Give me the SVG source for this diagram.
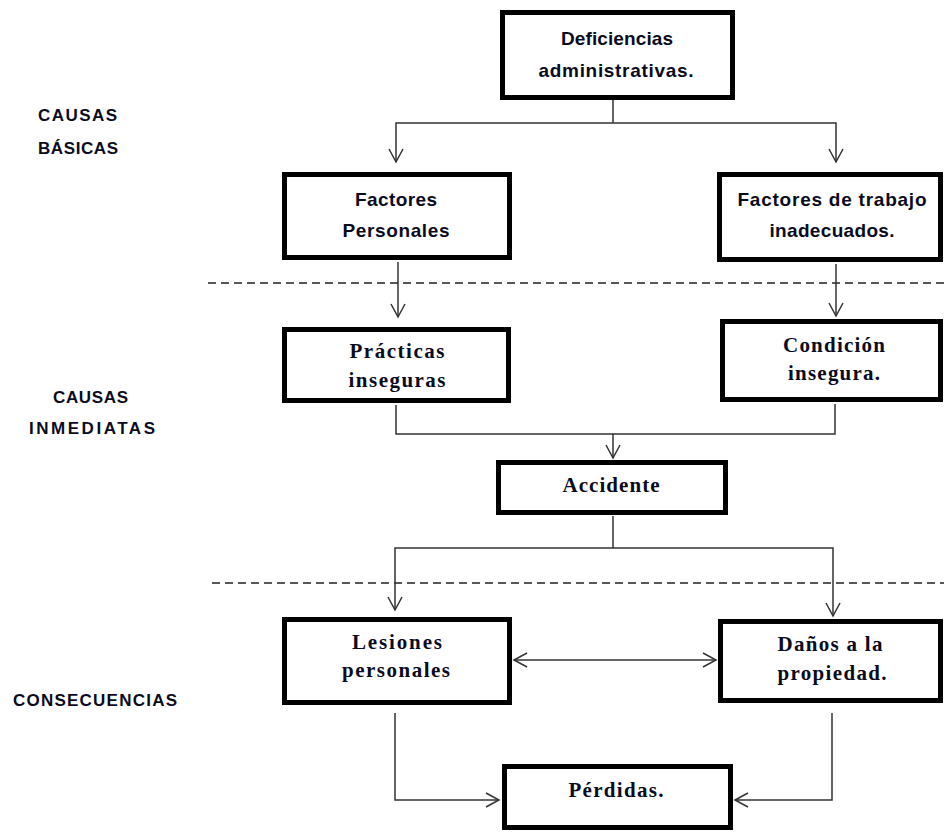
<svg xmlns="http://www.w3.org/2000/svg" width="944" height="832" viewBox="0 0 944 832">
<style>
.box{fill:#fff;stroke:#000;stroke-width:5}
.sans{font-family:"Liberation Sans",Arial,sans-serif;font-weight:bold;font-size:19px;fill:#0b0b1e;text-anchor:middle}
.lab{font-family:"Liberation Sans",Arial,sans-serif;font-weight:bold;font-size:17px;fill:#0b0b1e;text-anchor:start}
.serif{font-family:"Liberation Serif","Times New Roman",serif;font-weight:bold;font-size:21px;fill:#0b0b1e;text-anchor:middle}
.con{fill:none;stroke:#333;stroke-width:1.5}
.arr{marker-end:url(#ah)}
.arr2{marker-start:url(#ah);marker-end:url(#ah)}
.dash{fill:none;stroke:#222;stroke-width:1.5;stroke-dasharray:8 5}
</style>
<defs>
<marker id="ah" viewBox="0 0 16 16" refX="14" refY="8" markerWidth="16" markerHeight="16" markerUnits="userSpaceOnUse" orient="auto-start-reverse">
<path d="M1,1 L14,8 L1,15" fill="none" stroke="#333" stroke-width="1.5"/>
</marker>
</defs>
<rect width="944" height="832" fill="#fff"/>
<g id="labels">
<text class="lab" x="38" y="121" textLength="79">CAUSAS</text>
<text class="lab" x="38" y="154" textLength="80">BÁSICAS</text>
<text class="lab" x="53" y="403" textLength="75">CAUSAS</text>
<text class="lab" x="29" y="434" textLength="126">INMEDIATAS</text>
<text class="lab" x="13" y="706" textLength="164">CONSECUENCIAS</text>
</g>
<g id="separators">
<line class="dash" x1="208" y1="283" x2="944" y2="283"/>
<line class="dash" x1="212" y1="583" x2="944" y2="583"/>
</g>
<g id="connectors">
<path class="con" d="M613,100 V123"/>
<path class="con arr2" d="M396,162 V123 H836 V162"/>
<path class="con arr" d="M398,262 V317"/>
<path class="con arr" d="M836,264 V316"/>
<path class="con" d="M396,405 V434 H835 V404"/>
<path class="con arr" d="M613,434 V458"/>
<path class="con" d="M613,516 V548"/>
<path class="con arr2" d="M395,610 V548 H833 V616"/>
<path class="con arr2" d="M514,660 H716"/>
<path class="con arr" d="M395,713 V800 H499"/>
<path class="con arr" d="M832,713 V800 H735"/>
</g>
<g id="n-deficiencias">
<rect class="box" x="502.5" y="12.5" width="230" height="85"/>
<text class="sans" x="617" y="45" textLength="112">Deficiencias</text>
<text class="sans" x="616" y="77" textLength="155">administrativas.</text>
</g>
<g id="n-factores-personales">
<rect class="box" x="284.5" y="174.5" width="225" height="83"/>
<text class="sans" x="396" y="206" textLength="82">Factores</text>
<text class="sans" x="396" y="237" textLength="107">Personales</text>
</g>
<g id="n-factores-trabajo">
<rect class="box" x="719.5" y="174.5" width="221" height="85"/>
<text class="sans" x="832" y="206" textLength="189">Factores de trabajo</text>
<text class="sans" x="832" y="237" textLength="125">inadecuados.</text>
</g>
<g id="n-practicas">
<rect class="box" x="284.5" y="329.5" width="224" height="71"/>
<text class="serif" x="397" y="358" textLength="95">Prácticas</text>
<text class="serif" x="397" y="387" textLength="97">inseguras</text>
</g>
<g id="n-condicion">
<rect class="box" x="722.5" y="321.5" width="218" height="78"/>
<text class="serif" x="834" y="352" textLength="102">Condición</text>
<text class="serif" x="834" y="380" textLength="92">insegura.</text>
</g>
<g id="n-accidente">
<rect class="box" x="498.5" y="462.5" width="227" height="50"/>
<text class="serif" x="611" y="492" textLength="97">Accidente</text>
</g>
<g id="n-lesiones">
<rect class="box" x="284.5" y="619.5" width="225" height="83"/>
<text class="serif" x="397" y="649" textLength="90">Lesiones</text>
<text class="serif" x="396" y="677" textLength="108">personales</text>
</g>
<g id="n-danos">
<rect class="box" x="720.5" y="621.5" width="220" height="79"/>
<text class="serif" x="830" y="651" textLength="105">Daños a la</text>
<text class="serif" x="832" y="680" textLength="109">propiedad.</text>
</g>
<g id="n-perdidas">
<rect class="box" x="504.5" y="766.5" width="226" height="61"/>
<text class="serif" x="616" y="797" textLength="95">Pérdidas.</text>
</g>
</svg>
